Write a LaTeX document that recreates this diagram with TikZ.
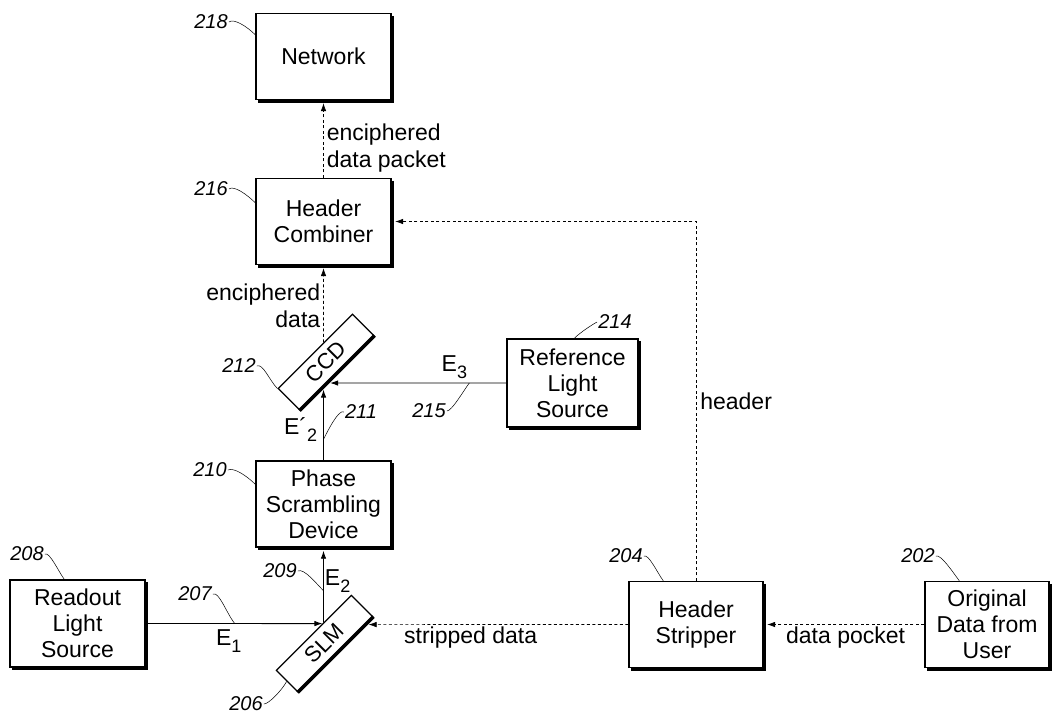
\documentclass[tikz,border=0pt]{standalone}
\usepackage{fontspec}
\setmainfont{Liberation Sans}
\usetikzlibrary{arrows.meta,calc}
\newcommand\lowix[1]{\raisebox{-7pt}{\fontsize{18}{18}\selectfont #1}}
\tikzset{
  unit/.style={draw, line width=1.4pt, minimum width=135pt, minimum height=86pt,
    align=center, inner sep=2pt, font=\fontsize{23}{26}\selectfont},
  plate/.style={draw, line width=1.2pt, rotate=45, minimum width=105pt, minimum height=30pt,
    inner sep=1pt, font=\fontsize{22}{26}\selectfont},
  tag/.style={font=\fontsize{20}{22}\selectfont\itshape, inner sep=1pt},
  lbl/.style={font=\fontsize{23}{27}\selectfont, inner sep=2pt},
  lead/.style={line width=0.5pt},
  beam/.style={line width=0.9pt, ->},
  sig/.style={line width=0.6pt, dash pattern=on 3pt off 2.5pt, ->},
  shadowline/.style={line width=3pt}
}
\begin{document}
\begin{tikzpicture}[x=1pt,y=-1pt,>={Latex[length=8pt,width=5.5pt]}]
  \useasboundingbox (0,0) rectangle (1057,715);
  % boxes
  \node[unit] (net) at (323.5,56.5) {Network};
  \node[unit] (comb) at (323.5,221.5) {Header\\Combiner};
  \node[unit] (phase) at (323.5,504) {Phase\\Scrambling\\Device};
  \node[unit, minimum height=87pt] (readout) at (77.5,623.5) {Readout\\Light\\Source};
  \node[unit, minimum width=131pt, minimum height=88pt] (ref) at (572.5,383) {Reference\\Light\\Source};
  \node[unit, minimum width=134pt] (stripper) at (696,624.5) {Header\\Stripper};
  \node[unit, minimum width=124pt] (orig) at (987,624.5) {Original\\Data from\\User};
  \node[plate] (ccd) at (326,362) {CCD};
  \node[plate, minimum width=106pt] (slm) at (324.5,643.5) {SLM};
  \foreach \b in {net,comb,phase,readout,ref,stripper,orig} {
    \draw[shadowline] ([xshift=1pt,yshift=-3pt]\b.north east) -- ([xshift=1pt,yshift=-1pt]\b.south east)
      -- ([xshift=3pt,yshift=-1pt]\b.south west);
  }
  \draw[line width=3.5pt] (ccd.south west) -- (ccd.south east);
  \draw[line width=3.5pt] (slm.south west) -- (slm.south east);
  % light paths
  \draw[beam] (readout.east) -- node[lbl, below, inner sep=6pt, pos=0.47] {E\lowix{1}}
    (intersection of slm.north west--slm.north east and readout.west--readout.east);
  \draw[beam, shorten >=3pt] (intersection of slm.north west--slm.north east and phase.north--phase.south)
    -- node[lbl, right, inner sep=1pt, pos=0.56] {E\lowix{2}} (phase.south);
  \draw[beam, shorten >=3pt] (phase.north)
    -- node[lbl, left, inner sep=6pt, pos=0.42] {E´\lowix{2}}
    (intersection of ccd.south west--ccd.south east and phase.north--phase.south);
  \draw[beam, shorten >=3pt] (ref.west) -- node[lbl, above, inner sep=4pt, pos=0.29] {E\lowix{3}}
    (intersection of ccd.south west--ccd.south east and ref.west--ref.east);
  % data paths
  \draw[sig, shorten >=3pt] (intersection of ccd.north west--ccd.north east and comb.north--comb.south)
    -- node[lbl, left, align=right, inner sep=3pt, pos=0.48] {enciphered\\data} (comb.south);
  \draw[sig, shorten >=3pt] (comb.north)
    -- node[lbl, right, align=left, inner sep=3pt, pos=0.38] {enciphered\\data packet} (net.south);
  \draw[sig, shorten >=3.5pt] (orig.west) -- node[lbl, below, pos=0.49] {data pocket} (stripper.east);
  \draw[sig, shorten >=3pt] (stripper.west) -- node[lbl, below, pos=0.6] {stripped data}
    (intersection of slm.south west--slm.south east and stripper.west--stripper.east);
  \draw[sig, shorten >=3.5pt] (stripper.north) -- node[lbl, right, inner sep=4pt, pos=0.5] {header}
    (stripper.north |- comb.east) -- (comb.east);
  % reference numerals
  \node[tag] (t218) at (211,22) {218};
  \node[tag] (t216) at (211,189) {216};
  \node[tag] (t212) at (239,366) {212};
  \node[tag] (t211) at (361,412) {211};
  \node[tag] (t215) at (429,411) {215};
  \node[tag] (t214) at (615,322) {214};
  \node[tag] (t210) at (210,470) {210};
  \node[tag] (t209) at (280,571) {209};
  \node[tag] (t208) at (27,554) {208};
  \node[tag] (t207) at (195,594) {207};
  \node[tag] (t206) at (246,704) {206};
  \node[tag] (t204) at (626,556) {204};
  \node[tag] (t202) at (918,556) {202};
  \draw[lead] (t218.east) .. controls +(5,-4) and +(-8,-8) .. ([yshift=-22pt]net.north west);
  \draw[lead] (t216.east) .. controls +(5,-4) and +(-8,-8) .. ([yshift=-25pt]comb.north west);
  \draw[lead] (t212.east) .. controls +(6,-3) and +(-8,-8) .. (ccd.north west);
  \draw[lead] (t211.west) .. controls +(-5,-3) and +(5,-10) .. ([yshift=21pt]phase.north);
  \draw[lead] (t215.east) .. controls +(5,0) and +(-6,8) .. ([xshift=-37pt]ref.west);
  \draw[lead] (t214.west) .. controls +(-4,2) and +(6,-6) .. ([xshift=68pt]ref.north west);
  \draw[lead] (t210.east) .. controls +(6,-3) and +(-8,-8) .. ([yshift=-24pt]phase.north west);
  \draw[lead] (t209.east) .. controls +(6,-3) and +(-8,-8) .. ([yshift=-43pt]phase.south);
  \draw[lead] (t208.east) .. controls +(5,-2) and +(-6,-8) .. ([xshift=55pt]readout.north west);
  \draw[lead] (t207.east) .. controls +(6,-3) and +(-8,-10) .. ([xshift=89pt]readout.east);
  \draw[lead] (t206.east) .. controls +(5,0) and +(-4,8) .. (slm.west);
  \draw[lead] (t204.east) .. controls +(5,-2) and +(-6,-8) .. ([xshift=35pt]stripper.north west);
  \draw[lead] (t202.east) .. controls +(5,-2) and +(-6,-8) .. ([xshift=35pt]orig.north west);
\end{tikzpicture}
\end{document}
